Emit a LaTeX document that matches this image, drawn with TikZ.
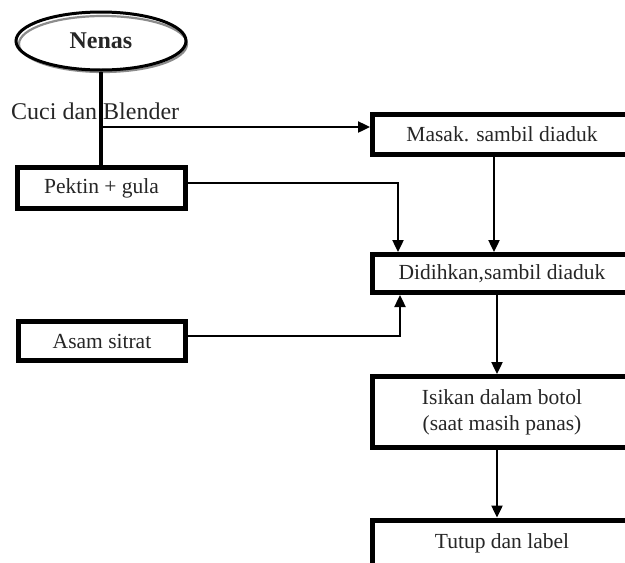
\documentclass[tikz,border=0pt]{standalone}
\usepackage{fontspec}
\setmainfont{Liberation Serif}
\usetikzlibrary{arrows.meta,shapes.geometric}
\begin{document}
\begin{tikzpicture}[x=1pt,y=-1pt,
  box/.style={draw=black,line width=5pt,rectangle,inner sep=0pt,fill=white,
    font=\fontsize{21.5}{26}\selectfont,align=center,text=black!85},
  conn/.style={line width=2.4pt,-{Triangle[length=12pt,width=11pt]}},
  plain/.style={line width=2.4pt}]
\path[use as bounding box] (0,0) rectangle (625,563);
\begin{scope}
\clip (0,0) rectangle (625,563);
\fill[white] (0,0) rectangle (625,563);
% Nenas ellipse with grey shadow ring
\draw[black!45,line width=2.2pt] (103,44) ellipse [x radius=84, y radius=28];
\node[ellipse,draw=black,line width=3pt,minimum width=170pt,minimum height=58pt,
  inner sep=0pt,font=\fontsize{24}{28}\selectfont\bfseries,text=black!85] (nenas) at (101,41) {Nenas};
% left boxes
\node[box,minimum width=168pt,minimum height=41pt] (pektin) at (101.5,188) {Pektin + gula};
\node[box,minimum width=167pt,minimum height=39pt] (asam) at (102,341) {Asam sitrat};
% right boxes
\node[box,minimum width=259pt,minimum height=40pt] (masak) at (502,134.5) {Masak. sambil diaduk};
\node[box,minimum width=259pt,minimum height=38pt] (didih) at (502,273.5) {Didihkan,sambil diaduk};
\node[box,minimum width=259pt,minimum height=71pt] (isi) at (502,412) {Isikan dalam botol\\(saat masih panas)};
\node[box,minimum width=259pt,minimum height=46pt] (tutup) at (502,543) {Tutup dan label};
% label
\node[anchor=west,inner sep=0pt,font=\fontsize{24}{28}\selectfont,text=black!85] (cuci) at (11,111) {Cuci dan Blender};
% connectors
\draw[line width=3.2pt] (nenas.south) -- (nenas.south |- pektin.north);
\coordinate (j1) at (nenas.south |- 0,127);
\draw[conn] (j1) -- (j1 -| masak.west);
\draw[conn] ([yshift=5pt]pektin.east) -| ([xshift=28pt]didih.north west);
\draw[conn] ([xshift=-8pt]masak.south) -- ([xshift=-8pt]didih.north);
\draw[conn] ([yshift=5pt]asam.east) -| ([xshift=30pt]didih.south west);
\draw[conn] ([xshift=-5pt]didih.south) -- ([xshift=-5pt]isi.north);
\draw[conn] ([xshift=-5pt]isi.south) -- ([xshift=-5pt]tutup.north);
\end{scope}
\end{tikzpicture}
\end{document}
